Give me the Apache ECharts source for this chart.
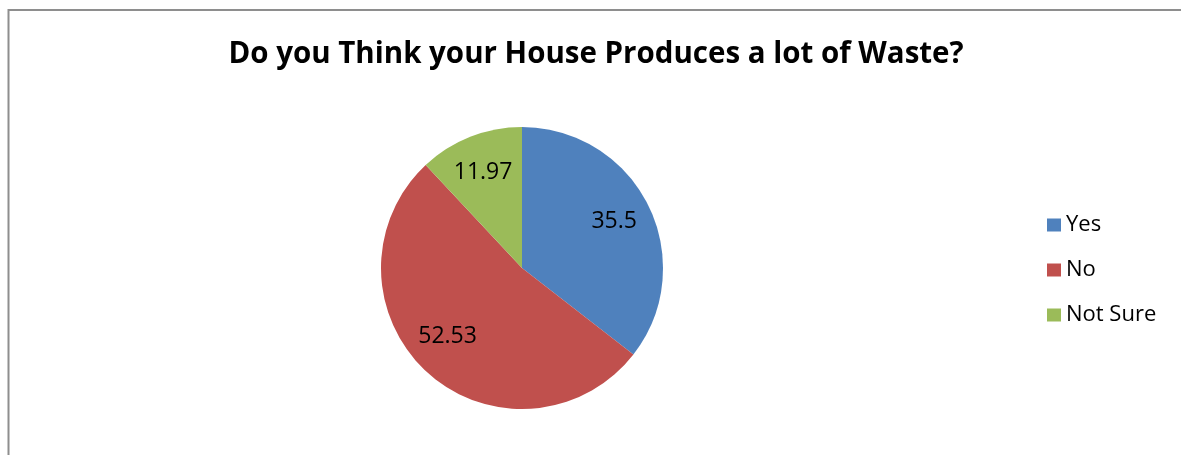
<!DOCTYPE html>
<html>
<head>
<meta charset="utf-8">
<script src="https://cdn.jsdelivr.net/npm/echarts@6/dist/echarts.min.js"></script>
<style>
  html, body { margin: 0; padding: 0; background: #fff; }
  #chart { width: 1181px; height: 455px; }
</style>
</head>
<body>
<div id="chart"></div>
<script>
  var categories = ['Yes', 'No', 'Not Sure']
  var values = [35.5, 52.53, 11.97]
  var colors = ['#4F81BD', '#C0504D', '#9BBB59']
  // small nudges so labels sit where the original puts them
  var labelPads = [[0, 6, 0, 0], [0, 6, 0, 0], [0, 0, 0, 0]]
  var labelFormats = ['{c}', '{c}\n{gap20| }', '{gap6| }\n{c}']

  var pieData = categories.map(function (name, i) {
    return { name: name, value: values[i], itemStyle: { color: colors[i] } }
  })
  // same slices, invisible, only used to put labels further out than r/2
  var labelData = categories.map(function (name, i) {
    return {
      name: name,
      value: values[i],
      label: { padding: labelPads[i], formatter: labelFormats[i] }
    }
  })

  var chart = echarts.init(document.getElementById('chart'))
  var option = {
    animation: false,
    title: {
      text: 'Do you Think your House Produces a lot of Waste?',
      left: 591,
      textAlign: 'center',
      top: 35,
      textStyle: {
        fontFamily: 'Open Sans',
        fontWeight: 'bold',
        fontSize: 29.5,
        color: '#000'
      }
    },
    graphic: [{
      type: 'rect',
      shape: { x: 8.5, y: 10, width: 1400, height: 700 },
      style: { fill: 'none', stroke: '#8e8e8e', lineWidth: 2 },
      silent: true
    }],
    legend: {
      orient: 'vertical',
      left: 1047,
      top: 214,
      padding: 0,
      itemWidth: 14,
      itemHeight: 13,
      itemGap: 23,
      icon: 'rect',
      data: categories,
      textStyle: {
        fontFamily: 'Open Sans',
        fontSize: 22,
        lineHeight: 22,
        color: '#000'
      }
    },
    series: [
      {
        type: 'pie',
        center: [522, 268],
        radius: 141,
        startAngle: 90,
        clockwise: true,
        data: pieData,
        label: { show: false },
        labelLine: { show: false },
        itemStyle: { borderWidth: 0 },
        emphasis: { disabled: true }
      },
      {
        type: 'pie',
        center: [522, 268],
        radius: [65, 141],
        startAngle: 90,
        clockwise: true,
        silent: true,
        data: labelData,
        itemStyle: { color: 'rgba(0,0,0,0)' },
        label: {
          show: true,
          position: 'inside',
          formatter: '{c}',
          fontFamily: 'Open Sans',
          fontSize: 23,
          lineHeight: 26,
          color: '#000',
          rich: {
            gap20: { fontSize: 1, lineHeight: 20 },
            gap6: { fontSize: 1, lineHeight: 6 }
          }
        },
        labelLine: { show: false },
        emphasis: { disabled: true }
      }
    ]
  }
  chart.setOption(option)
</script>
</body>
</html>
